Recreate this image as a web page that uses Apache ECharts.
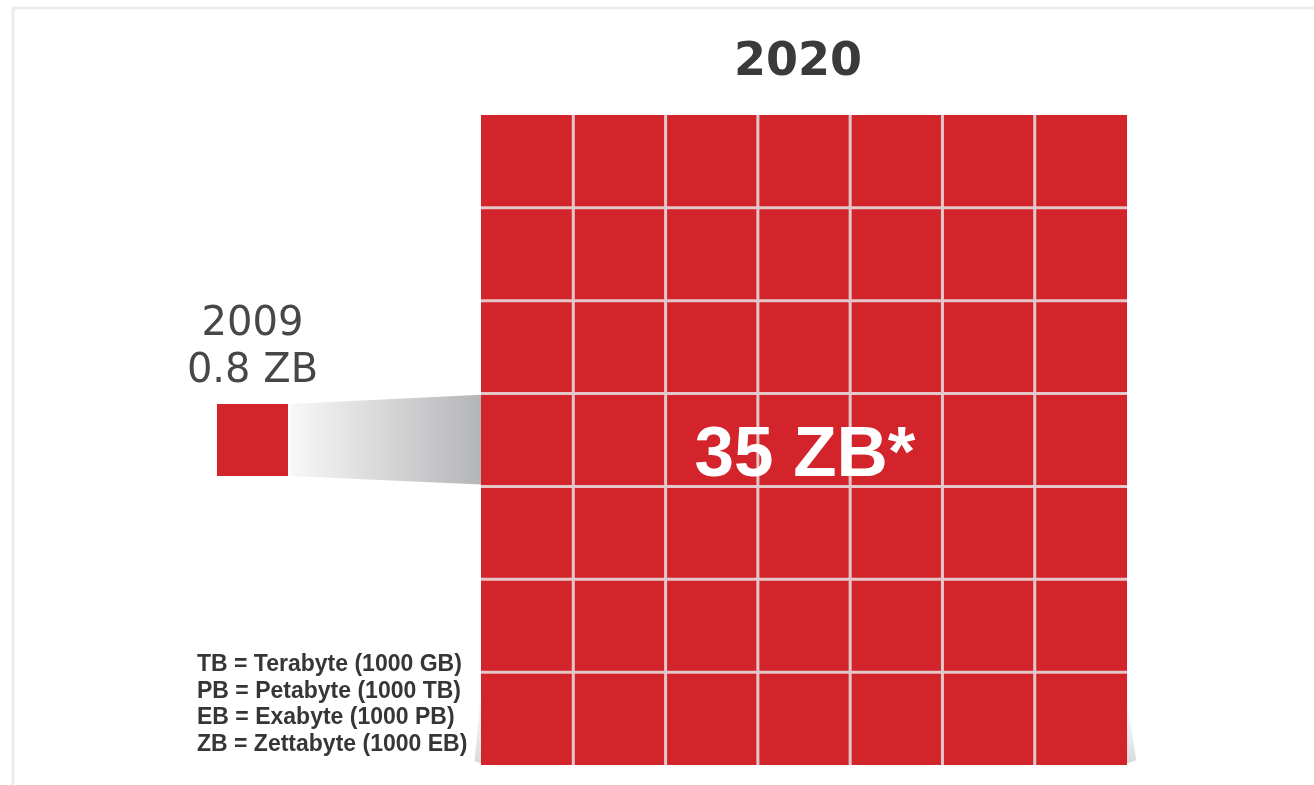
<!DOCTYPE html>
<html><head><meta charset="utf-8">
<script src="https://cdn.jsdelivr.net/npm/echarts@6/dist/echarts.min.js"></script>
<style>html,body{margin:0;padding:0;background:#fff}#c{width:1314px;height:785px}</style>
</head><body><div id="c"></div><script>
// ---- data ----
const years = ['2009', '2020'];
const volumesZB = [0.8, 35];
const volumeLabels = ['0.8 ZB', '35 ZB*'];
const gridRows = 7;
const gridCols = 7;
const unitLegend = [
  'TB = Terabyte (1000 GB)',
  'PB = Petabyte (1000 TB)',
  'EB = Exabyte (1000 PB)',
  'ZB = Zettabyte (1000 EB)'
];

// ---- layout (data units: 1 unit = one cell of the 2020 grid) ----
const cells = [];
for (let r = 0; r < gridRows; r++) for (let c = 0; c < gridCols; c++) cells.push([c, r]);
const smallBox = { x0: -2.861, x1: -2.091, y0: 3.112, y1: 3.888 };
const RED = '#d3232b';
const GAP = '#e3c7c9';

const chart = echarts.init(document.getElementById('c'), null, { renderer: 'canvas' });
chart.setOption({
  animation: false,
  backgroundColor: '#ffffff',
  grid: { left: 0, right: 0, top: 0, bottom: 0 },
  xAxis: { type: 'value', min: -5.212, max: 9.026, show: false },
  yAxis: { type: 'value', min: -0.2154, max: 8.2384, show: false },
  graphic: [
    { type: 'rect', shape: { x: 13, y: 8, width: 1330, height: 820 }, style: { fill: 'none', stroke: '#ececec', lineWidth: 3 }, z: -10 },
    ...unitLegend.map((t, i) => ({
      type: 'text', left: 197, top: 653 + i * 26.7,
      style: { text: t, font: 'bold 23px "Liberation Sans", Arial, sans-serif', fill: '#363636' }
    }))
  ],
  series: [
    { // connector funnel
      type: 'custom', silent: true, clip: false, data: [[0, 0]],
      renderItem: (p, api) => {
        const a = api.coord([smallBox.x1 + 0.02, smallBox.y1]);
        const b = api.coord([0, smallBox.y1 + 0.1]);
        const c = api.coord([0, smallBox.y0 - 0.09]);
        const d = api.coord([smallBox.x1 + 0.02, smallBox.y0]);
        return { type: 'polygon', shape: { points: [a, b, c, d] },
          style: { fill: { type: 'linear', x: 0, y: 0, x2: 1, y2: 0,
            colorStops: [{ offset: 0, color: '#f8f8f8' }, { offset: 1, color: '#b4b5b7' }] } } };
      }
    },
    { // faint corner shadows of the big block
      type: 'custom', silent: true, clip: false, data: [[0, 0], [1, 0]],
      renderItem: (p, api) => {
        const side = api.value(0);
        const pts = side === 0
          ? [api.coord([0, 0.8]), api.coord([0, 0.02]), api.coord([-0.07, 0.04])]
          : [api.coord([gridCols, 0.7]), api.coord([gridCols, 0.02]), api.coord([gridCols + 0.1, 0.05])];
        return { type: 'polygon', shape: { points: pts },
          style: { fill: { type: 'linear', x: 0, y: 0, x2: 0, y2: 1,
            colorStops: [{ offset: 0, color: 'rgba(160,160,160,0)' }, { offset: 1, color: 'rgba(130,130,130,0.3)' }] } } };
      }
    },
    { // 2009 block with labels
      type: 'custom', silent: true, clip: false, data: [[0, volumesZB[0]]],
      renderItem: (p, api) => {
        const tl = api.coord([smallBox.x0, smallBox.y1]);
        const br = api.coord([smallBox.x1, smallBox.y0]);
        const cx = (tl[0] + br[0]) / 2;
        return { type: 'group', children: [
          { type: 'rect', shape: { x: tl[0], y: tl[1], width: br[0] - tl[0], height: br[1] - tl[1] }, style: { fill: RED } },
          { type: 'text', x: cx, y: tl[1] - 79, style: { text: years[0], font: '40px "DejaVu Sans", Verdana, sans-serif', fill: '#474747', align: 'center', verticalAlign: 'middle' } },
          { type: 'text', x: cx, y: tl[1] - 32, style: { text: volumeLabels[0], font: '40px "DejaVu Sans", Verdana, sans-serif', fill: '#474747', align: 'center', verticalAlign: 'middle' } }
        ] };
      }
    },
    { // 2020 grid background (gap colour)
      type: 'custom', silent: true, clip: false, data: [[0, 0]],
      renderItem: (p, api) => {
        const tl = api.coord([0, gridRows]);
        const br = api.coord([gridCols, 0]);
        return { type: 'rect', shape: { x: tl[0], y: tl[1], width: br[0] - tl[0], height: br[1] - tl[1] }, style: { fill: GAP } };
      }
    },
    { // 2020 grid cells
      type: 'custom', silent: true, clip: false, data: cells,
      renderItem: (p, api) => {
        const c = api.value(0), r = api.value(1);
        const tl = api.coord([c, r + 1]);
        const br = api.coord([c + 1, r]);
        const g = 1.5;
        const x0 = tl[0] + (c > 0 ? g : 0);
        const x1 = br[0] - (c < gridCols - 1 ? g : 0);
        const y0 = tl[1] + (r < gridRows - 1 ? g : 0);
        const y1 = br[1] - (r > 0 ? g : 0);
        return { type: 'rect', shape: { x: x0, y: y0, width: x1 - x0, height: y1 - y0 }, style: { fill: RED } };
      }
    },
    { // 2020 labels
      type: 'custom', silent: true, clip: false, data: [[1, volumesZB[1]]], z: 5,
      renderItem: (p, api) => {
        const top = api.coord([gridCols / 2, gridRows]);
        const mid = api.coord([gridCols / 2, gridRows / 2]);
        return { type: 'group', children: [
          { type: 'text', x: top[0] - 6, y: top[1] - 52, style: { text: years[1], font: 'bold 46px "DejaVu Sans", Verdana, sans-serif', fill: '#3a3a3a', align: 'center', verticalAlign: 'middle' } },
          { type: 'text', x: mid[0] + 1, y: mid[1] + 16, style: { text: volumeLabels[1], font: 'bold 71px "Liberation Sans", Arial, sans-serif', fill: '#ffffff', align: 'center', verticalAlign: 'middle' } }
        ] };
      }
    }
  ]
});
</script></body></html>
